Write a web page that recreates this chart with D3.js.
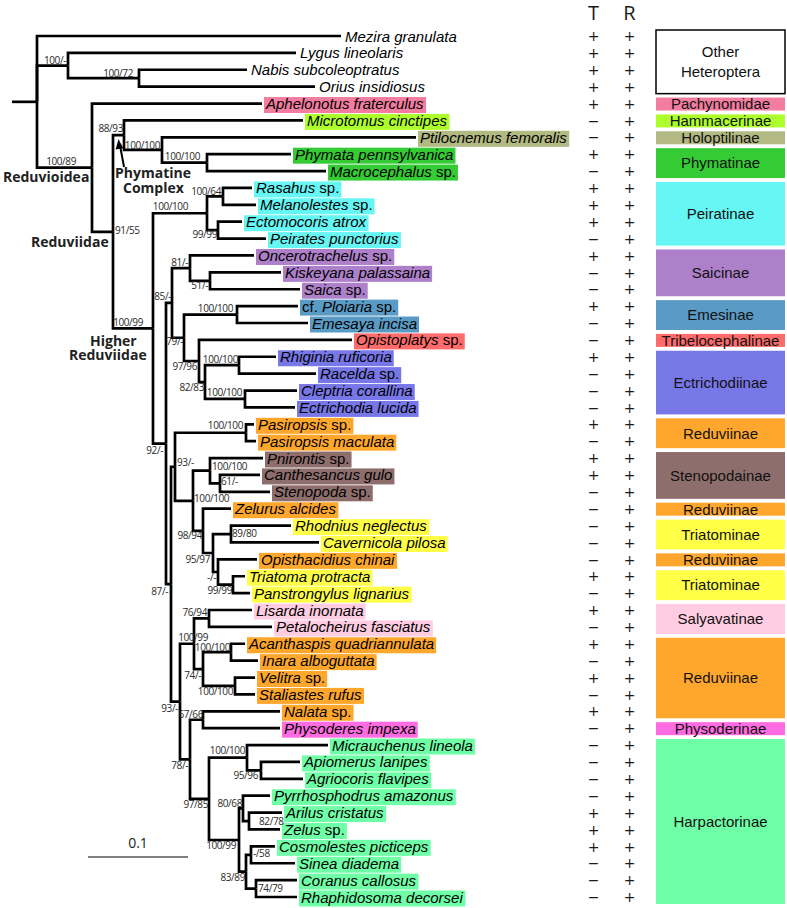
<!DOCTYPE html>
<html><head><meta charset="utf-8">
<script src="https://cdn.jsdelivr.net/npm/d3@7"></script>
<style>body{margin:0;background:#fff}svg{display:block}text{white-space:pre}</style>
</head><body>
<svg id="chart" width="787" height="908"></svg>
<script>
// ---------------- DATA ----------------
// Tree topology with branch lengths (substitutions/site); leaves are row indices into `taxa`,
// internal labels are bootstrap supports.
const treeNewick = `(0:0.304,(1:0.228,(2:0.108,3:0.176)100/72:0.071)100/-:0.031,
(4:0.170,((5:0.179,(6:0.254,(7:0.084,8:0.119)100/100:0.045)100/100:0.038)88/93:0.011,
(((9:0.029,10:0.033)100/64:0.016,(11:0.024,12:0.048)99/99:0.011)100/100:0.054,
(((13:0.064,(14:0.071,15:0.090)51/-:0.020)81/-:0.018,
((16:0.061,17:0.071)100/100:0.053,(18:0.153,((19:0.037,20:0.077)100/100:0.034,(21:0.052,22:0.050)100/100:0.040)82/83:0.006)97/96:0.015)79/-:0.012)85/-:0.006,
(((23:0.008,24:0.010)100/100:0.071,((25:0.053,(26:0.040,27:0.050)61/-:0.010)100/100:0.017,
(28:0.028,((29:0.060,30:0.088)89/80:0.018,(31:0.039,(32:0.012,33:0.017)99/99:0.015)-/-:0.005)95/97:0.010)98/94:0.010)100/100:0.018)93/-:0.004,
(((34:0.043,35:0.063)76/94:0.015,((36:0.014,37:0.027)100/100:0.028,(38:0.020,39:0.020)100/100:0.032)74/-:0.009)100/99:0.014,
((40:0.077,41:0.077)67/66:0.013,((42:0.081,(43:0.039,44:0.042)95/96:0.014)100/100:0.038,
((45:0.027,(46:0.033,47:0.031)82/78:0.006)80/68:0.004,((48:0.024,49:0.044)-/58:0.005,(50:0.041,51:0.041)74/79:0.010)83/89:0.007)100/99:0.030)97/85:0.019)78/-:0.010)93/-:0.009)87/-:0.005)92/-:0.013)100/99:0.040)91/55:0.021)100/89:0.055):0.025;`;

const taxa = ["Mezira granulata","Lygus lineolaris","Nabis subcoleoptratus","Orius insidiosus",
"Aphelonotus fraterculus","Microtomus cinctipes","Ptilocnemus femoralis","Phymata pennsylvanica",
"Macrocephalus sp.","Rasahus sp.","Melanolestes sp.","Ectomocoris atrox","Peirates punctorius",
"Oncerotrachelus sp.","Kiskeyana palassaina","Saica sp.","cf. Ploiaria sp.","Emesaya incisa",
"Opistoplatys sp.","Rhiginia ruficoria","Racelda sp.","Cleptria corallina","Ectrichodia lucida",
"Pasiropsis sp.","Pasiropsis maculata","Pnirontis sp.","Canthesancus gulo","Stenopoda sp.",
"Zelurus alcides","Rhodnius neglectus","Cavernicola pilosa","Opisthacidius chinai","Triatoma protracta",
"Panstrongylus lignarius","Lisarda inornata","Petalocheirus fasciatus","Acanthaspis quadriannulata",
"Inara alboguttata","Velitra sp.","Staliastes rufus","Nalata sp.","Physoderes impexa",
"Micrauchenus lineola","Apiomerus lanipes","Agriocoris flavipes","Pyrrhosphodrus amazonus",
"Arilus cristatus","Zelus sp.","Cosmolestes picticeps","Sinea diadema","Coranus callosus",
"Rhaphidosoma decorsei"];

const groupNames  = ["Other Heteroptera","Pachynomidae","Hammacerinae","Holoptilinae","Phymatinae","Peiratinae",
  "Saicinae","Emesinae","Tribelocephalinae","Ectrichodiinae","Reduviinae","Stenopodainae","Reduviinae",
  "Triatominae","Reduviinae","Triatominae","Salyavatinae","Reduviinae","Physoderinae","Harpactorinae"];
const groupSizes  = [4,1,1,1,2,4,3,2,1,4,2,3,1,2,1,2,2,5,1,10];
const groupColors = [null,"#F37DA0","#ADFF2C","#B2B982","#34CB34","#66F6F3","#AD80C9","#5A9BC5","#FD6B6B",
  "#7777E8","#FFA72D","#8E6E6C","#FFA72D","#FFFF47","#FFA72D","#FFFF47","#FFCCE1","#FFA72D","#FF6BE0","#6FFFA7"];

const traitColumns = ["T","R"];
const tValues = ["+","+","+","+", "+","-","-","+","-", "+","+","+","-", "+","-","-", "+","-", "-",
  "+","-","-","-", "+","-", "+","+","-", "-", "-","-", "-", "+","-", "+","-", "+","-","+","-","+", "-",
  "-","-","-","-","+","+","+","-","-","-"];
const rValues = taxa.map(() => "+");

const scaleBarValue = 0.1;
const uprightWords = ["sp.","cf."];

// ---------------- LAYOUT ----------------
const svg = d3.select("#chart");
const xScale = d3.scaleLinear().domain([0, 0.1]).range([12, 112]);
const rowY = d3.scaleLinear().domain([0, taxa.length - 1]).range([36, 897]);

// support label offsets, preorder of internal nodes: [side, dx, dyCenter]
const supportOffsets = [
 ["L",-2,-5],["L",-6,-5],["L",-16,-6],["R",2,-1],["L",-1,-7],["L",-2,-5],["L",-7,-6],["L",-10,-6],
 ["L",-19,-7],["L",-2,-5],["L",-1,4],["L",-3,7],["L",-1,-7],["L",-2,-6],["L",-2,5],["L",-1,4],
 ["L",-4,-6],["L",-2,5],["L",-1,5],["L",-1,-6],["L",-3,-7],["L",-3,7],["R",2,-4],["L",-3,-7],
 ["R",1,-2],["R",2,-4],["R",1,-2],["L",-1,5],["L",-3,6],["R",1,-1],["L",-2,5],["L",-1,6],
 ["L",-2,7],["L",14,-6],["L",-2,-6],["L",-2,6],["L",-1,-5],["L",-2,5],["L",-2,6],["L",0,-5],
 ["L",-1,6],["L",-2,-7],["L",-3,5],["L",-3,5],["L",-1,-5],["R",10,0],["L",-1,6],["R",2,-1],["R",2,0]
];

function parseNewick(str) {
  const s = str.replace(/\s+/g, "");
  let i = 0;
  function node() {
    const n = { children: [] };
    if (s[i] === "(") {
      i++;
      n.children.push(node());
      while (s[i] === ",") { i++; n.children.push(node()); }
      i++; // ')'
    }
    let name = "";
    while (i < s.length && !",():;".includes(s[i])) name += s[i++];
    n.name = name;
    n.length = 0;
    if (s[i] === ":") {
      i++;
      let len = "";
      while (i < s.length && !",();".includes(s[i])) len += s[i++];
      n.length = +len;
    }
    return n;
  }
  return node();
}

const root = d3.hierarchy(parseNewick(treeNewick), d => d.children.length ? d.children : null);
root.each(d => { d.dist = (d.parent ? d.parent.dist : 0) + d.data.length; });
root.eachAfter(d => {
  if (!d.children) d.yPos = rowY(+d.data.name);
  else d.yPos = (d.children[0].yPos + d.children[d.children.length - 1].yPos) / 2;
});

const rowColor = [];
groupSizes.forEach((n, gi) => { for (let k = 0; k < n; k++) rowColor.push(groupColors[gi]); });

// ---------------- BRANCHES ----------------
const gTree = svg.append("g").attr("fill", "none").attr("stroke", "#000").attr("stroke-width", 2.7);
gTree.append("path").attr("d", `M${xScale(0)},${root.yPos}H${xScale(root.dist)}`);
gTree.selectAll("path.br").data(root.descendants().filter(d => d.parent)).join("path")
  .attr("class", "br")
  .attr("d", d => `M${xScale(d.parent.dist)},${d.parent.yPos}V${d.yPos}H${xScale(d.dist)}`);

// ---------------- TIP LABELS ----------------
const gTips = svg.append("g");
root.leaves().forEach(d => {
  const row = +d.data.name;
  const x0 = xScale(d.dist);
  const g = gTips.append("g");
  const rect = g.append("rect");
  const t = g.append("text").attr("x", x0 + 4).attr("y", d.yPos + 5.5)
    .attr("font-family", "'Liberation Sans', Arial, sans-serif").attr("font-size", 15).attr("fill", "#000");
  taxa[row].split(" ").forEach((w, k) => {
    t.append("tspan").text((k ? " " : "") + w)
      .attr("font-style", uprightWords.includes(w) ? "normal" : "italic");
  });
  const c = rowColor[row];
  if (c) {
    const bb = t.node().getBBox();
    rect.attr("x", x0 + 2).attr("y", d.yPos - 6.5).attr("height", 16)
      .attr("width", bb.x + bb.width + 2 - (x0 + 2)).attr("fill", c);
  } else rect.remove();
});

// ---------------- SUPPORT LABELS ----------------
const internal = [];
root.eachBefore(d => { if (d.children && d.parent) internal.push(d); });
const gSup = svg.append("g").attr("font-family", "'Open Sans', sans-serif").attr("font-size", 10)
  .attr("fill", "#2a2a2a").attr("letter-spacing", "-0.4");
internal.forEach((d, k) => {
  const o = supportOffsets[k] || ["L", -2, -5];
  gSup.append("text")
    .attr("x", xScale(d.dist) + o[1])
    .attr("y", d.yPos + o[2] + 3.6)
    .attr("text-anchor", o[0] === "L" ? "end" : "start")
    .text(d.data.name);
});

// ---------------- CLADE ANNOTATIONS ----------------
const gCl = svg.append("g").attr("font-family", "'Open Sans', sans-serif").attr("font-weight", "bold")
  .attr("font-size", 14).attr("fill", "#222");
[["Reduvioidea", 3, 182], ["Phymatine", 115, 178], ["Complex", 123, 193], ["Reduviidae", 31, 247],
 ["Higher", 90, 346], ["Reduviidae", 69, 360]].forEach(a => {
  gCl.append("text").attr("x", a[1]).attr("y", a[2]).text(a[0]);
});
svg.append("line").attr("x1", 124).attr("y1", 167).attr("x2", 120.5).attr("y2", 148)
  .attr("stroke", "#000").attr("stroke-width", 2);
svg.append("path").attr("d", "M118.5,139 L115.6,149.5 L123.2,148.2 Z").attr("fill", "#000");

// ---------------- SCALE BAR ----------------
const sbX0 = 88;
const sbLen = xScale(scaleBarValue) - xScale(0);
svg.append("line").attr("x1", sbX0).attr("x2", sbX0 + sbLen)
  .attr("y1", 857).attr("y2", 857).attr("stroke", "#555").attr("stroke-width", 1.5);
svg.append("text").attr("x", sbX0 + sbLen / 2).attr("y", 848)
  .attr("text-anchor", "middle").attr("font-family", "'Open Sans', sans-serif").attr("font-size", 14)
  .attr("fill", "#222").text(scaleBarValue);

// ---------------- TRAIT COLUMNS ----------------
const colX = d3.scalePoint().domain(traitColumns).range([593.5, 629.5]);
const gTr = svg.append("g").attr("text-anchor", "middle").attr("fill", "#1a1a1a");
traitColumns.forEach(c => {
  gTr.append("text").attr("x", colX(c)).attr("y", 20).attr("font-family", "'Open Sans', sans-serif")
    .attr("font-size", 20).text(c);
});
[tValues, rValues].forEach((vals, ci) => {
  vals.forEach((v, r) => {
    gTr.append("text").attr("x", colX(traitColumns[ci])).attr("y", rowY(r) + 5.2)
      .attr("font-family", "'DejaVu Sans', sans-serif").attr("font-size", 14).attr("font-weight", "normal")
      .text(v === "+" ? "+" : "\u2212");
  });
});

// ---------------- GROUP BOXES ----------------
const gGr = svg.append("g");
let start = 0;
groupNames.forEach((name, gi) => {
  const end = start + groupSizes[gi] - 1;
  const y0 = rowY(start) - 6, y1 = rowY(end) + 7;
  const c = groupColors[gi];
  gGr.append("rect").attr("x", 656).attr("y", y0).attr("width", 129).attr("height", y1 - y0)
    .attr("fill", c || "#fff").attr("stroke", c ? "none" : "#000").attr("stroke-width", 1.5);
  const lines = c ? [name] : name.split(" ");
  const mid = (y0 + y1) / 2;
  lines.forEach((ln, li) => {
    gGr.append("text").attr("x", 720.5).attr("y", mid + 5.3 + (li - (lines.length - 1) / 2) * 20)
      .attr("text-anchor", "middle").attr("font-family", "'Liberation Sans', Arial, sans-serif")
      .attr("font-size", 15).attr("fill", "#111").text(ln);
  });
  start = end + 1;
});
</script>
</body></html>
